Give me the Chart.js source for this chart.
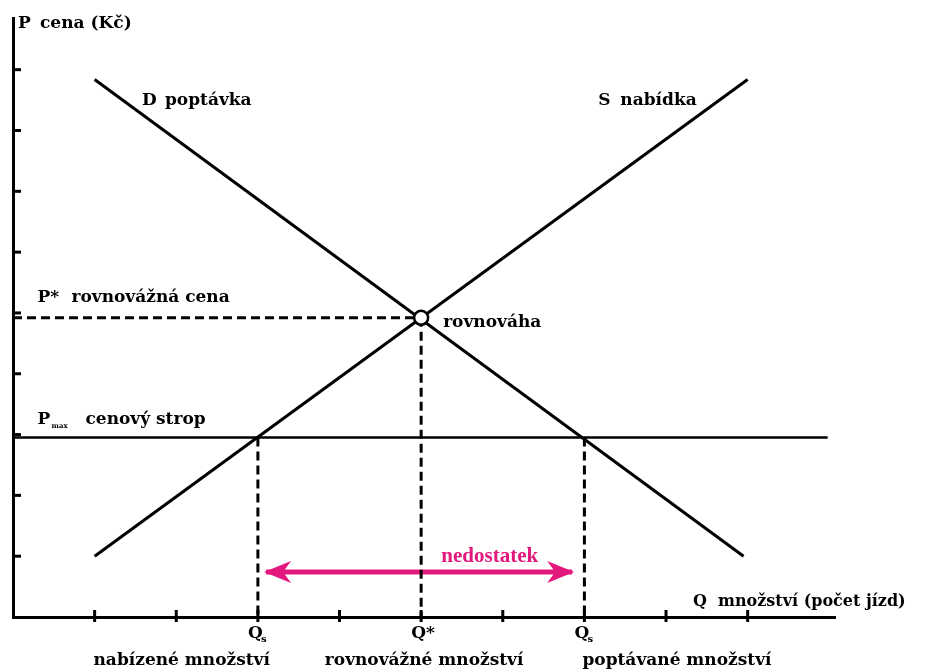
<!DOCTYPE html>
<html><head><meta charset="utf-8">
<script src="https://cdn.jsdelivr.net/npm/chart.js@4.4.1/dist/chart.umd.min.js"></script>
<style>html,body{margin:0;padding:0;background:#fff}#wrap{width:928px;height:671px}</style>
</head><body><div id="wrap"><canvas id="c" width="928" height="671"></canvas></div>
<script>
// Data (quantity Q on x, price P on y)
const supplyQ = [1, 9];
const supplyP = [1, 8.84];
const demandQ = [1, 8.95];
const demandP = [8.84, 1];
const pStar = 4.92;      // equilibrium price
const qStar = 5;         // equilibrium quantity
const pMax = 2.95;       // price ceiling
const qSupplied = 3;
const qDemanded = 7;
const shortageQ = [3.1, 6.85];
const shortageP = 0.74;
const xTicks = [1, 2, 3, 4, 5, 6, 7, 8, 9];
const yTicks = [1, 2, 3, 4, 5, 6, 7, 8, 9];
const qTickLabels = ['Q', 'Q*', 'Q'];
const qTickSubs = ['s', '', 's'];
const qTickNames = ['nabízené množství', 'rovnovážné množství', 'poptávané množství'];

const pts = (xs, ys) => xs.map((x, i) => ({x, y: ys[i]}));
const BLACK = '#000';
const PINK = '#e3187d';
const slab = 'bold 17px "DejaVu Serif", serif';
const cond = 'bold 17px "DejaVu Serif", serif';

const overlay = {
  id: 'overlay',
  afterDatasetsDraw(chart) {
    const {ctx, scales: {x, y}} = chart;
    const X = v => x.getPixelForValue(v), Y = v => y.getPixelForValue(v);
    ctx.save();
    // ticks
    ctx.strokeStyle = BLACK; ctx.lineWidth = 3; ctx.lineCap = 'butt';
    yTicks.forEach(t => { ctx.beginPath(); ctx.moveTo(X(0), Y(t)); ctx.lineTo(X(0) + 8, Y(t)); ctx.stroke(); });
    xTicks.forEach(t => { ctx.beginPath(); ctx.moveTo(X(t), Y(0) - 7); ctx.lineTo(X(t), Y(0) + 5); ctx.stroke(); });
    // arrowheads on shortage arrow
    ctx.fillStyle = PINK;
    const ay = Y(shortageP);
    const head = (xt, dir) => {
      ctx.beginPath();
      ctx.moveTo(xt, ay);
      ctx.lineTo(xt - dir * 27, ay - 11);
      ctx.lineTo(xt - dir * 19, ay);
      ctx.lineTo(xt - dir * 27, ay + 11);
      ctx.closePath(); ctx.fill();
    };
    head(X(shortageQ[0]) - 2, -1);
    head(X(shortageQ[1]) + 2, 1);
    // texts
    ctx.textBaseline = 'alphabetic';
    const txt = (s, px, py, font, align = 'left', color = BLACK) => {
      ctx.font = font; ctx.textAlign = align; ctx.fillStyle = color; ctx.fillText(s, px, py);
    };
    txt('P', X(0) + 5, 28, slab);
    txt('cena (Kč)', X(0) + 27, 28, slab);
    txt('D', X(1.58), Y(8.42), slab);
    txt('poptávka', X(1.58) + 23, Y(8.42), slab);
    txt('S', X(7.17), Y(8.42), slab);
    txt('nabídka', X(7.17) + 22, Y(8.42), slab);
    txt('P*', X(0.3), Y(pStar) - 16, slab);
    txt('rovnovážná cena', X(0.3) + 34, Y(pStar) - 16, slab);
    txt('rovnováha', X(qStar) + 22, Y(pStar) + 9, slab);
    txt('P', X(0.3), Y(pMax) - 14, slab);
    txt('max', X(0.3) + 14, Y(pMax) - 10, 'bold 7px "DejaVu Serif", serif');
    txt('cenový strop', X(0.3) + 48, Y(pMax) - 14, slab);
    txt('nedostatek', (X(qStar) + X(qDemanded)) / 2 - 13, Y(shortageP) - 10, 'bold 21px "Liberation Serif", serif', 'center', PINK);
    txt('Q', X(8.33), Y(0) - 11, 'bold 16px "DejaVu Serif", serif');
    txt('množství (počet jízd)', X(8.33) + 25, Y(0) - 11, 'bold 16px "DejaVu Serif", serif');
    const qs = [qSupplied, qStar, qDemanded];
    const aligns = ['right', 'center', 'left'];
    qs.forEach((q, i) => {
      const px = X(q);
      txt(qTickLabels[i], px - 10, Y(0) + 21, cond);
      if (qTickSubs[i]) txt(qTickSubs[i], px + 3, Y(0) + 25, 'bold 10px "DejaVu Serif", serif');
      const off = i === 0 ? 12 : (i === 2 ? -2 : 3);
      txt(qTickNames[i], px + off, Y(0) + 48, cond, aligns[i]);
    });
    // equilibrium circle
    ctx.beginPath(); ctx.arc(X(qStar), Y(pStar), 7, 0, Math.PI * 2);
    ctx.fillStyle = '#fff'; ctx.fill(); ctx.lineWidth = 2.5; ctx.strokeStyle = BLACK; ctx.stroke();
    ctx.restore();
  }
};

const lineDs = (data, opts = {}) => Object.assign({
  data, showLine: true, borderColor: BLACK, borderWidth: 3, pointRadius: 0, fill: false, tension: 0
}, opts);
const dash = [9, 5];

new Chart(document.getElementById('c'), {
  type: 'scatter',
  data: {
    datasets: [
      lineDs(pts([0, qStar], [pStar, pStar]), {borderDash: dash}),
      lineDs(pts([qStar, qStar], [pStar, 0]), {borderDash: dash}),
      lineDs(pts([qSupplied, qSupplied], [pMax, 0]), {borderDash: dash}),
      lineDs(pts([qDemanded, qDemanded], [pMax, 0]), {borderDash: dash}),
      lineDs(pts([0, 9.98], [pMax, pMax]), {borderWidth: 2.5}),
      lineDs(pts(supplyQ, supplyP)),
      lineDs(pts(demandQ, demandP)),
      lineDs(pts(shortageQ, [shortageP, shortageP]), {borderColor: PINK, borderWidth: 5})
    ]
  },
  options: {
    responsive: false, animation: false, devicePixelRatio: 1,
    layout: {padding: {left: 5, right: 93, top: 18, bottom: 46}},
    plugins: {legend: {display: false}, tooltip: {enabled: false}},
    scales: {
      x: {type: 'linear', min: 0, max: 10.07, ticks: {display: false}, grid: {display: false},
          border: {display: true, color: BLACK, width: 3}},
      y: {type: 'linear', min: 0, max: 9.85, ticks: {display: false}, grid: {display: false},
          border: {display: true, color: BLACK, width: 3}}
    }
  },
  plugins: [overlay]
});
</script></body></html>
